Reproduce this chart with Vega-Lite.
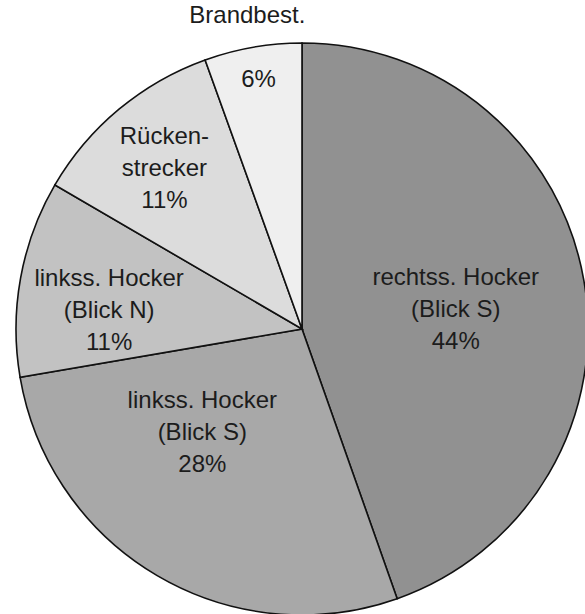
{
  "$schema": "https://vega.github.io/schema/vega-lite/v6.json",
  "width": 566,
  "height": 570,
  "autosize": {"type": "none"},
  "padding": {"left": 19, "top": 44, "right": 0, "bottom": 0},
  "background": "white",
  "view": {"stroke": null},
  "data": {"values": [
    {"o": 1, "cat": "rechtss. Hocker (Blick S)", "v": 44.6, "label": "rechtss. Hocker\n(Blick S)\n44%", "outer": ""},
    {"o": 2, "cat": "linkss. Hocker (Blick S)", "v": 27.7, "label": "linkss. Hocker\n(Blick S)\n28%", "outer": ""},
    {"o": 3, "cat": "linkss. Hocker (Blick N)", "v": 11.1, "label": "linkss. Hocker\n(Blick N)\n11%", "outer": ""},
    {"o": 4, "cat": "Rückenstrecker", "v": 11.1, "label": "Rücken-\nstrecker\n11%", "outer": ""},
    {"o": 5, "cat": "Brandbest.", "v": 5.5, "label": "6%", "outer": "Brandbest."}
  ]},
  "encoding": {
    "theta": {"field": "v", "type": "quantitative", "stack": true},
    "order": {"field": "o", "type": "quantitative"}
  },
  "layer": [
    {
      "mark": {"type": "arc", "outerRadius": 286, "stroke": "#111111", "strokeWidth": 1.6},
      "encoding": {
        "color": {
          "field": "cat", "type": "nominal", "legend": null,
          "scale": {
            "domain": ["rechtss. Hocker (Blick S)", "linkss. Hocker (Blick S)", "linkss. Hocker (Blick N)", "Rückenstrecker", "Brandbest."],
            "range": ["#919191", "#a8a8a8", "#c2c2c2", "#dcdcdc", "#efefef"]
          }
        }
      }
    },
    {
      "mark": {"type": "text", "font": "Liberation Sans", "fontSize": 24, "lineBreak": "\n", "lineHeight": 32, "color": "#1c1c1c", "radius": 156, "dy": -25},
      "encoding": {"text": {"condition": {"test": "datum.o == 1", "field": "label"}, "value": ""}}
    },
    {
      "mark": {"type": "text", "font": "Liberation Sans", "fontSize": 24, "lineBreak": "\n", "lineHeight": 32, "color": "#1c1c1c", "radius": 110, "dx": -44, "dy": -23},
      "encoding": {"text": {"condition": {"test": "datum.o == 2", "field": "label"}, "value": ""}}
    },
    {
      "mark": {"type": "text", "font": "Liberation Sans", "fontSize": 24, "lineBreak": "\n", "lineHeight": 32, "color": "#1c1c1c", "radius": 196, "dy": -15},
      "encoding": {"text": {"condition": {"test": "datum.o == 3", "field": "label"}, "value": ""}}
    },
    {
      "mark": {"type": "text", "font": "Liberation Sans", "fontSize": 24, "lineBreak": "\n", "lineHeight": 32, "color": "#1c1c1c", "radius": 215, "dy": -27},
      "encoding": {"text": {"condition": {"test": "datum.o == 4", "field": "label"}, "value": ""}}
    },
    {
      "mark": {"type": "text", "font": "Liberation Sans", "fontSize": 24, "lineBreak": "\n", "lineHeight": 32, "color": "#1c1c1c", "radius": 253},
      "encoding": {"text": {"condition": {"test": "datum.o == 5", "field": "label"}, "value": ""}}
    },
    {
      "mark": {"type": "text", "font": "Liberation Sans", "fontSize": 24, "color": "#1c1c1c", "radius": 318},
      "encoding": {"text": {"field": "outer"}}
    }
  ]
}
